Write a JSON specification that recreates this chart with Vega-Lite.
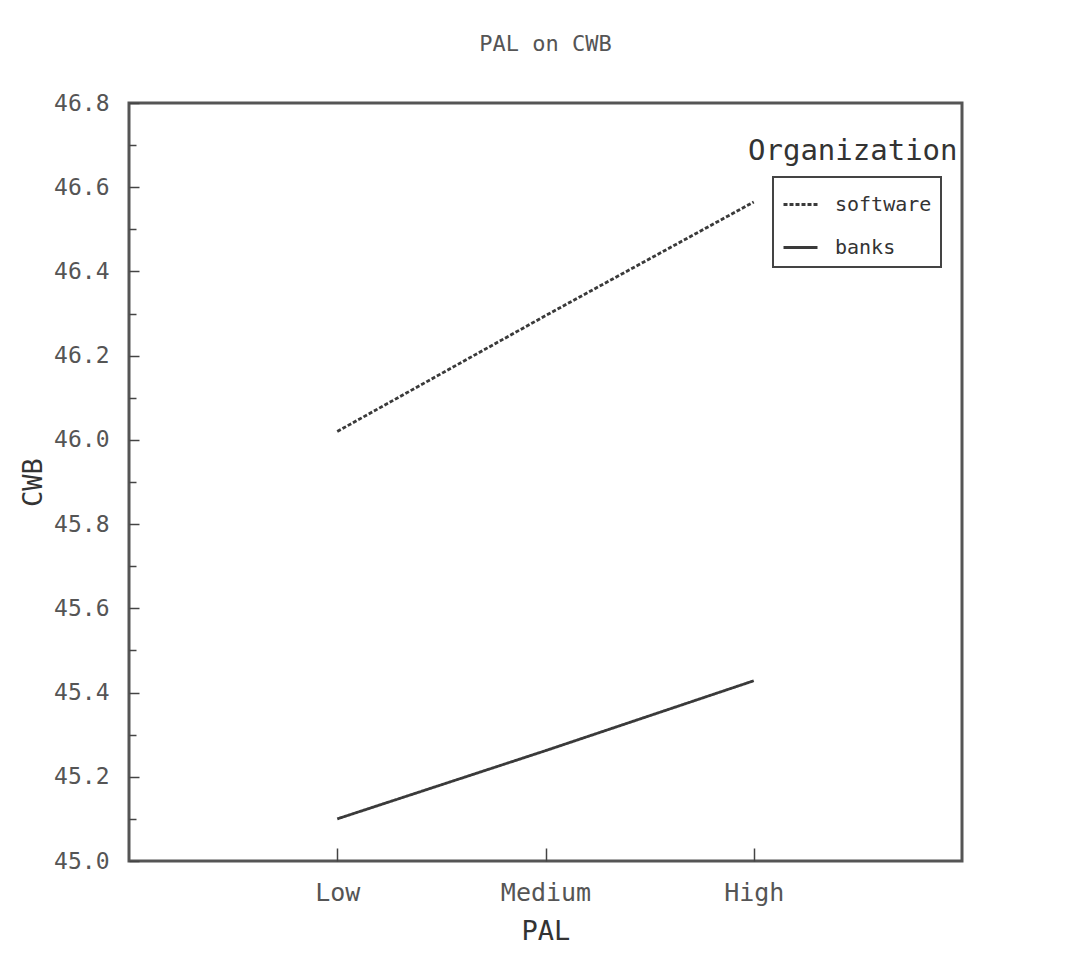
{
  "$schema": "https://vega.github.io/schema/vega-lite/v6.json",
  "autosize": "none",
  "padding": {"left": 129, "top": 103, "right": 109, "bottom": 101},
  "width": 833,
  "height": 758,
  "background": "white",
  "title": {
    "text": "PAL on CWB",
    "font": "DejaVu Sans Mono",
    "fontSize": 22,
    "fontWeight": "normal",
    "color": "#555",
    "offset": 36,
    "anchor": "middle"
  },
  "config": {
    "view": {"stroke": "#555", "strokeWidth": 3},
    "axis": {"grid": false, "domain": false}
  },
  "data": {
    "values": [
      {"PAL": "Low", "Organization": "software", "CWB": 46.02},
      {"PAL": "Medium", "Organization": "software", "CWB": 46.295},
      {"PAL": "High", "Organization": "software", "CWB": 46.565},
      {"PAL": "Low", "Organization": "banks", "CWB": 45.1},
      {"PAL": "Medium", "Organization": "banks", "CWB": 45.262},
      {"PAL": "High", "Organization": "banks", "CWB": 45.428}
    ]
  },
  "layer": [
    {
      "mark": {"type": "line", "color": "#3a3a3a", "strokeWidth": 2.8},
      "encoding": {
        "x": {
          "field": "PAL",
          "type": "ordinal",
          "sort": ["Low", "Medium", "High"],
          "scale": {"type": "point", "padding": 1},
          "axis": {
            "title": "PAL",
            "labelAngle": 0,
            "labelFont": "DejaVu Sans Mono",
            "labelFontSize": 25,
            "labelColor": "#555",
            "labelPadding": 32,
            "tickSize": -13,
            "tickColor": "#444",
            "tickWidth": 1.5,
            "titleFont": "DejaVu Sans Mono",
            "titleFontSize": 27,
            "titleFontWeight": "normal",
            "titleColor": "#333",
            "titlePadding": 13
          }
        },
        "y": {
          "field": "CWB",
          "type": "quantitative",
          "scale": {"domain": [45.0, 46.8], "zero": false, "nice": false},
          "axis": {
            "title": "CWB",
            "values": [45.0, 45.2, 45.4, 45.6, 45.8, 46.0, 46.2, 46.4, 46.6, 46.8],
            "format": ".1f",
            "labelFont": "DejaVu Sans Mono",
            "labelFontSize": 23,
            "labelColor": "#555",
            "labelPadding": 30,
            "tickSize": -10,
            "tickColor": "#444",
            "tickWidth": 1.5,
            "titleFont": "DejaVu Sans Mono",
            "titleFontSize": 27,
            "titleFontWeight": "normal",
            "titleColor": "#333",
            "titlePadding": 6
          }
        },
        "strokeDash": {
          "field": "Organization",
          "type": "nominal",
          "sort": ["software", "banks"],
          "scale": {"domain": ["software", "banks"], "range": [[4, 2], [1, 0]]},
          "legend": {
            "title": null,
            "orient": "none",
            "legendX": 644,
            "legendY": 74,
            "padding": 9,
            "rowPadding": 14,
            "fillColor": "white",
            "strokeColor": "#444",
            "symbolType": "stroke",
            "symbolSize": 1156,
            "symbolStrokeWidth": 2.8,
            "symbolStrokeColor": "#3a3a3a",
            "labelFont": "DejaVu Sans Mono",
            "labelFontSize": 20,
            "labelColor": "#333",
            "labelOffset": 16,
            "encode": {
              "legend": {"update": {"strokeWidth": {"value": 2}}},
              "symbols": {"update": {"strokeDash": {"signal": "datum.label === 'software' ? [10, 8] : [1, 0]"}}}
            }
          }
        },
        "opacity": {
          "field": "Organization",
          "type": "nominal",
          "scale": {"range": [1, 1]},
          "legend": {
            "title": "Organization",
            "orient": "none",
            "legendX": 619,
            "legendY": 34,
            "padding": 0,
            "titleFont": "DejaVu Sans Mono",
            "titleFontSize": 29,
            "titleFontWeight": "normal",
            "titleColor": "#333",
            "titleLimit": 400,
            "symbolType": "circle",
            "symbolOpacity": 0,
            "symbolSize": 0,
            "symbolStrokeWidth": 0,
            "labelExpr": "''",
            "labelOpacity": 0,
            "labelFontSize": 1,
            "rowPadding": 0
          }
        }
      }
    },
    {
      "mark": {"type": "line", "opacity": 0},
      "encoding": {
        "x": {"field": "PAL", "type": "ordinal", "sort": ["Low", "Medium", "High"]},
        "y": {
          "field": "CWB",
          "type": "quantitative",
          "axis": {
            "orient": "left",
            "title": null,
            "labels": false,
            "values": [45.1, 45.3, 45.5, 45.7, 45.9, 46.1, 46.3, 46.5, 46.7],
            "tickSize": -7,
            "tickColor": "#444",
            "tickWidth": 1.5
          }
        },
        "detail": {"field": "Organization"}
      }
    }
  ],
  "resolve": {"axis": {"y": "independent"}}
}
